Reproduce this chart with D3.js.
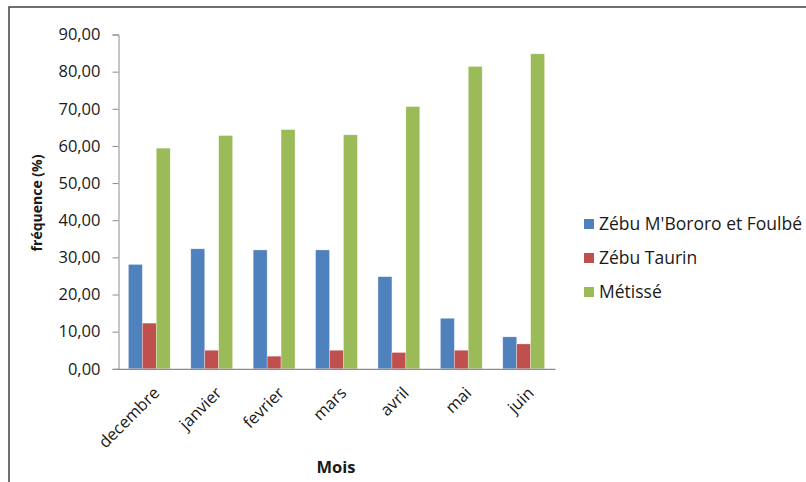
<!DOCTYPE html>
<html>
<head>
<meta charset="utf-8">
<script src="https://cdn.jsdelivr.net/npm/d3@7"></script>
<style>
  body { margin: 0; background: #fff; }
  text { font-family: "Open Sans", "Noto Sans", sans-serif; fill: #1a1a1a; }
</style>
</head>
<body>
<div id="plot"></div>
<script>
// data
const months = ["decembre", "janvier", "fevrier", "mars", "avril", "mai", "juin"];
const seriesNames = ["Zébu M'Bororo et Foulbé", "Zébu Taurin", "Métissé"];
const bororo = [28.1, 32.3, 32.0, 32.0, 24.8, 13.6, 8.6];
const taurin = [12.3, 5.0, 3.4, 5.0, 4.4, 5.0, 6.7];
const metisse = [59.4, 62.8, 64.4, 63.0, 70.6, 81.4, 84.8];
const colors = ["#4F81BD", "#C0504D", "#9BBB59"];
const yTicks = [0, 10, 20, 30, 40, 50, 60, 70, 80, 90];

const width = 806, height = 482;
const values = [bororo, taurin, metisse];
const rows = months.map((m, i) => ({ month: m, vals: values.map(s => s[i]) }));

const svg = d3.select("#plot")
    .append("svg")
    .attr("width", width)
    .attr("height", height);

// outer frame (top and left edges only visible)
svg.append("path")
    .attr("d", "M9,482 V7 H806")
    .attr("fill", "none")
    .attr("stroke", "#404040")
    .attr("stroke-width", 1.5);

const x = d3.scaleBand()
    .domain(months)
    .range([118, 555])
    .paddingInner(0.33)
    .paddingOuter(0.167);

const xs = d3.scaleBand()
    .domain(d3.range(seriesNames.length))
    .range([0, x.bandwidth()]);

const y = d3.scaleLinear()
    .domain([0, 90])
    .range([368.8, 34.5]);

// bars
const groups = svg.selectAll("g.grp")
    .data(rows)
    .enter().append("g")
    .attr("class", "grp")
    .attr("transform", d => "translate(" + x(d.month) + ",0)");

groups.selectAll("rect")
    .data(d => d.vals)
    .enter().append("rect")
    .attr("x", (d, i) => xs(i))
    .attr("y", d => y(d))
    .attr("width", xs.bandwidth())
    .attr("height", d => y(0) - y(d))
    .attr("fill", (d, i) => colors[i])
    .attr("stroke", "#ffffff")
    .attr("stroke-opacity", 0.5)
    .attr("stroke-width", 0.6);

// y axis
const yAxis = svg.append("g")
    .attr("transform", "translate(118.5,0)")
    .call(d3.axisLeft(y).tickValues(yTicks).tickSize(6).tickPadding(12)
        .tickFormat(d => d3.format(".2f")(d).replace(".", ",")));
yAxis.select(".domain").attr("stroke", "#8c8c8c");
yAxis.selectAll(".tick line").attr("stroke", "#8c8c8c");
yAxis.selectAll(".tick text")
    .style("font-size", "16.5px")
    .attr("fill", "#1a1a1a");

// x axis
const xAxis = svg.append("g")
    .attr("transform", "translate(0," + y(0) + ")")
    .call(d3.axisBottom(x).tickSize(0).tickPadding(0));
xAxis.select(".domain").attr("stroke", "#8c8c8c").attr("stroke-width", 1.2);
xAxis.selectAll(".tick text")
    .attr("text-anchor", "end")
    .attr("transform", "translate(3,17) rotate(-45)")
    .attr("dy", "0.7em")
    .attr("y", 0)
    .style("font-size", "16.5px")
    .attr("fill", "#1a1a1a");

// axis titles
svg.append("text")
    .attr("transform", "translate(42,203) rotate(-90)")
    .attr("text-anchor", "middle")
    .style("font-size", "14px")
    .style("font-weight", "bold")
    .text("fréquence (%)");

svg.append("text")
    .attr("x", 336)
    .attr("y", 473)
    .attr("text-anchor", "middle")
    .style("font-size", "16.5px")
    .style("font-weight", "bold")
    .text("Mois");

// legend
const legend = svg.selectAll("g.leg")
    .data(seriesNames)
    .enter().append("g")
    .attr("class", "leg")
    .attr("transform", (d, i) => "translate(584," + (224 + i * 34) + ")");

legend.append("rect")
    .attr("x", 0)
    .attr("y", -5)
    .attr("width", 10)
    .attr("height", 10)
    .attr("fill", (d, i) => colors[i]);

legend.append("text")
    .attr("x", 15)
    .attr("y", 0)
    .attr("dy", "0.36em")
    .style("font-size", "17.5px")
    .text(d => d);
</script>
</body>
</html>
